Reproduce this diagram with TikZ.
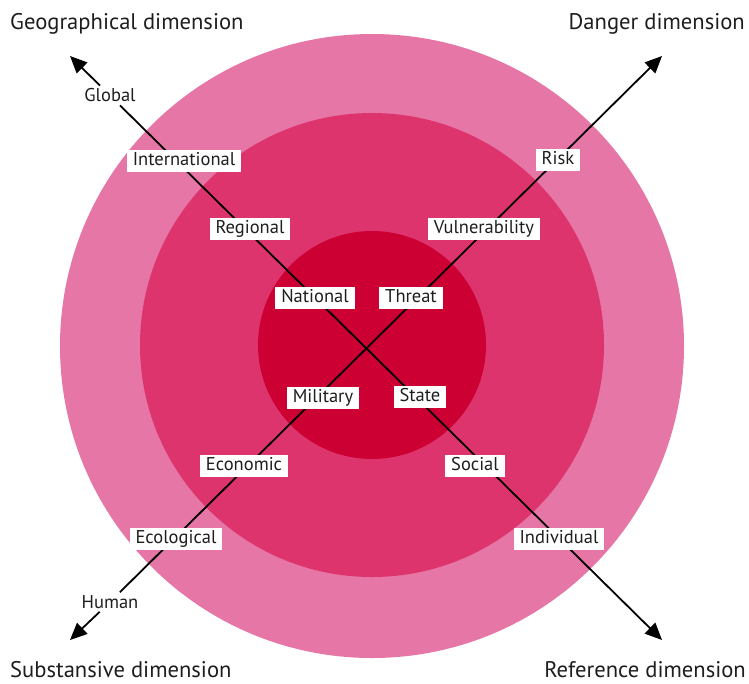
\documentclass[tikz,border=0pt]{standalone}
\usepackage{fontspec}
\setmainfont{PT Sans}
\usetikzlibrary{arrows.meta}
\definecolor{ringA}{RGB}{230,118,166}
\definecolor{ringB}{RGB}{222,52,110}
\definecolor{ringC}{RGB}{204,0,51}
\definecolor{ink}{RGB}{30,30,30}
\begin{document}
\begin{tikzpicture}[x=1pt,y=-1pt,
  lab/.style={fill=white, text=ink, font=\fontsize{18.5}{19}\selectfont, inner xsep=6pt, inner ysep=2.5pt, text height=13pt, text depth=4pt},
  endlab/.style={text=ink, font=\fontsize{18.5}{19}\selectfont, inner sep=3pt},
  ttl/.style={text=ink, font=\fontsize{22.6}{24}\selectfont, inner sep=0pt},
  axarr/.style={line width=1.8pt, draw=black, -{Triangle[length=17pt,width=15pt]}}]
\useasboundingbox (0,0) rectangle (749,683);
% rings
\fill[ringA] (372,346) circle (312pt);
\fill[ringB] (372,345) circle (232pt);
\fill[ringC] (372,345) circle (114pt);
% arrow tips
\coordinate (tl) at (70,56);
\coordinate (tr) at (662,56);
\coordinate (bl) at (70,640);
\coordinate (br) at (662,640);
% end labels
\node[endlab] (glob) at (110,95.5) {Global};
\node[endlab] (hum) at (110,602) {Human};
% axes
\draw[axarr] (glob) -- (tl);
\draw[axarr] (glob) -- (br);
\draw[axarr] (hum) -- (bl);
\draw[axarr] (hum) -- (tr);
% labels
\node[lab] (intl) at (184,161) {International};
\node[lab] (reg) at (250,229) {Regional};
\node[lab] (nat) at (315,297.5) {National};
\node[lab] (thr) at (411,297.5) {Threat};
\node[lab] (vul) at (484,228.5) {Vulnerability};
\node[lab] (risk) at (558,160) {Risk};
\node[lab] (mil) at (323,398) {Military};
\node[lab] (sta) at (420,396.5) {State};
\node[lab] (eco) at (244,466) {Economic};
\node[lab] (soc) at (475,466) {Social};
\node[lab] (ecol) at (176,539) {Ecological};
\node[lab] (ind) at (559,539) {Individual};
% titles
\node[ttl, anchor=base west] (tgeo) at (10,29) {Geographical dimension};
\node[ttl, anchor=base east] (tdan) at (745,29) {Danger dimension};
\node[ttl, anchor=base west] (tsub) at (10,677) {Substansive dimension};
\node[ttl, anchor=base east] (tref) at (746,677) {Reference dimension};
\end{tikzpicture}
\end{document}
